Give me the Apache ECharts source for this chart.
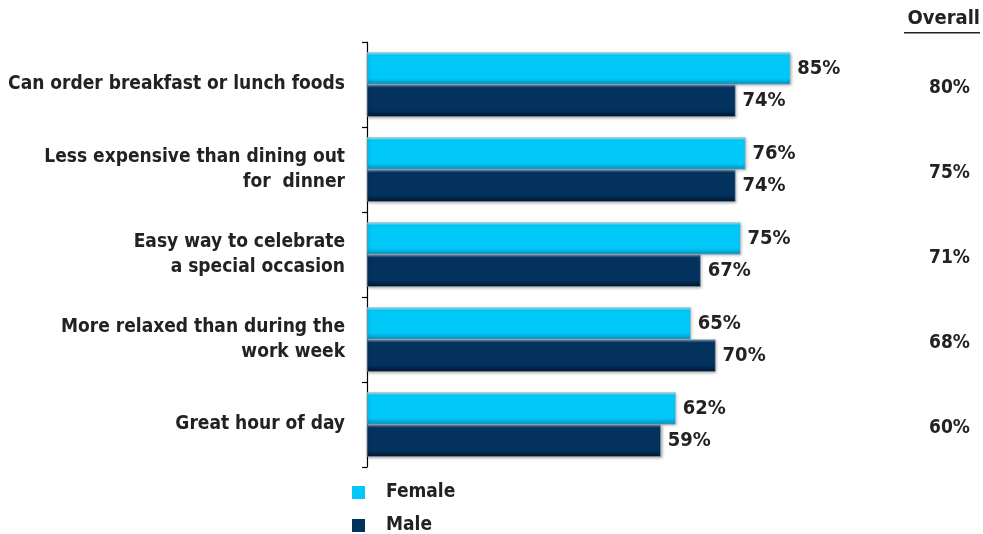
<!DOCTYPE html>
<html>
<head>
<meta charset="utf-8">
<style>
  html, body { margin: 0; padding: 0; background: #fff; }
  #chart { width: 983px; height: 534px; }
</style>
<script src="https://cdn.jsdelivr.net/npm/echarts@6/dist/echarts.min.js"></script>
</head>
<body>
<div id="chart"></div>
<script>
// Reasons for dining out, by gender (percent agreeing)
const categories = [
  'Can order breakfast or lunch foods',
  'Less expensive than dining out\nfor  dinner',
  'Easy way to celebrate\na special occasion',
  'More relaxed than during the\nwork week',
  'Great hour of day'
];
const female = [85, 76, 75, 65, 62];
const male = [74, 74, 67, 70, 59];
const overall = [80, 75, 71, 68, 60];

const FONT = "'DejaVu Sans Condensed', 'Liberation Sans Narrow', Arial, sans-serif";
const INK = '#222222';
const FEMALE_COLOR = '#00c8f8';
const MALE_COLOR = '#03325f';

// Shaded fill giving each bar a lit top edge and a darker lower edge
function barFill(top, mid, bottom) {
  return new echarts.graphic.LinearGradient(0, 0, 0, 1, [
    { offset: 0, color: top },
    { offset: 0.1, color: mid },
    { offset: 0.8, color: mid },
    { offset: 1, color: bottom }
  ]);
}

const valueLabel = {
  show: true,
  position: 'right',
  distance: 7,
  formatter: p => p.value + '%',
  fontFamily: FONT,
  fontWeight: 'bold',
  fontSize: 20,
  color: INK
};

const chart = echarts.init(document.getElementById('chart'));
chart.setOption({
  animation: false,
  backgroundColor: '#ffffff',
  textStyle: { fontFamily: FONT },
  color: [FEMALE_COLOR, MALE_COLOR],
  grid: { left: 367, right: 118, top: 42, bottom: 67, containLabel: false },
  legend: {
    orient: 'vertical',
    left: 352,
    top: 481,
    height: 80,
    padding: 0,
    itemWidth: 13,
    itemHeight: 13,
    itemGap: 10,
    icon: 'rect',
    itemStyle: { borderWidth: 0, shadowBlur: 0, shadowOffsetX: 0, shadowOffsetY: 0 },
    data: [
      { name: 'Female', itemStyle: { color: FEMALE_COLOR } },
      { name: 'Male', itemStyle: { color: MALE_COLOR } }
    ],
    textStyle: {
      fontFamily: FONT,
      fontWeight: 'bold',
      fontSize: 19,
      lineHeight: 23,
      color: INK,
      padding: [0, 0, 0, 16]
    }
  },
  xAxis: {
    type: 'value',
    min: 0,
    max: 100,
    show: false
  },
  yAxis: [
    {
      type: 'category',
      data: categories,
      inverse: true,
      axisLine: { show: true, lineStyle: { color: '#000', width: 1.2 } },
      axisTick: { show: true, length: 5, lineStyle: { color: '#000', width: 1.2 } },
      axisLabel: {
        margin: 22,
        fontFamily: FONT,
        fontWeight: 'bold',
        fontSize: 19,
        lineHeight: 25,
        color: INK,
        align: 'right'
      }
    },
    {
      // "Overall" column: combined percentage for each reason
      type: 'category',
      data: overall.map(v => v + '%'),
      inverse: true,
      position: 'right',
      axisLine: { show: false },
      axisTick: { show: false },
      axisLabel: {
        margin: 64,
        formatter: v => '{o|' + v + '}',
        rich: {
          o: {
            fontFamily: FONT,
            fontWeight: 'bold',
            fontSize: 19,
            color: INK,
            padding: [8, 0, 0, 0]
          }
        }
      }
    }
  ],
  series: [
    {
      name: 'Female',
      type: 'bar',
      data: female,
      barGap: '0%',
      barCategoryGap: '24%',
      itemStyle: {
        color: barFill('#b3ecfa', FEMALE_COLOR, '#0790bb'),
        borderColor: '#9fb8c2',
        borderWidth: 0.6,
        shadowColor: 'rgba(0,0,0,0.35)',
        shadowBlur: 3,
        shadowOffsetX: 1,
        shadowOffsetY: 1
      },
      label: valueLabel
    },
    {
      name: 'Male',
      type: 'bar',
      data: male,
      itemStyle: {
        color: barFill('#6f8eae', MALE_COLOR, '#00152e'),
        borderColor: '#8a98a8',
        borderWidth: 0.6,
        shadowColor: 'rgba(0,0,0,0.35)',
        shadowBlur: 3,
        shadowOffsetX: 1,
        shadowOffsetY: 1
      },
      label: valueLabel
    }
  ],
  graphic: [
    {
      type: 'text',
      right: 3,
      top: 9,
      style: {
        text: 'Overall',
        fontFamily: FONT,
        fontWeight: 'bold',
        fontSize: 20,
        fill: INK
      }
    },
    {
      type: 'rect',
      right: 3,
      top: 32,
      shape: { width: 76, height: 1.6 },
      style: { fill: INK }
    }
  ]
});
</script>
</body>
</html>
